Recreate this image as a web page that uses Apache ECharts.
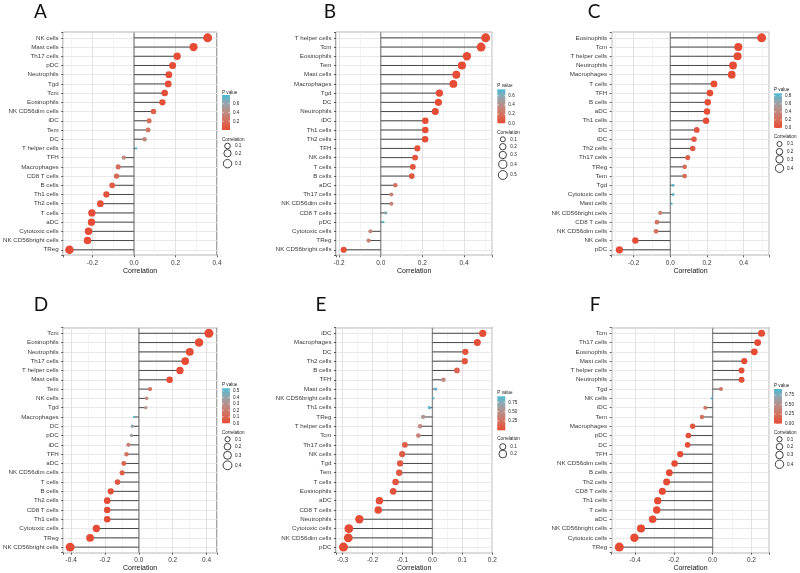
<!DOCTYPE html>
<html><head><meta charset="utf-8">
<script src="https://cdn.jsdelivr.net/npm/echarts@6/dist/echarts.min.js"></script>
<style>html,body{margin:0;padding:0;background:#fff}#c{width:800px;height:573px}</style>
</head><body><div id="c"></div>
<script>
// ---------------- data (top-to-bottom order) ----------------
const catsA = ['NK cells','Mast cells','Th17 cells','pDC','Neutrophils','Tgd','Tcm','Eosinophils','NK CD56dim cells','iDC','Tem','DC','T helper cells','TFH','Macrophages','CD8 T cells','B cells','Th1 cells','Th2 cells','T cells','aDC','Cytotoxic cells','NK CD56bright cells','TReg'];
const corrA = [0.355,0.287,0.208,0.186,0.168,0.165,0.148,0.137,0.094,0.073,0.068,0.051,0.011,-0.049,-0.076,-0.084,-0.105,-0.133,-0.162,-0.203,-0.205,-0.219,-0.224,-0.311];
const pvalA = [0.001,0.001,0.003,0.006,0.01,0.01,0.02,0.02,0.12,0.21,0.24,0.38,0.80,0.40,0.20,0.16,0.09,0.04,0.02,0.005,0.005,0.003,0.003,0.0002];

const catsB = ['T helper cells','Tcm','Eosinophils','Tem','Mast cells','Macrophages','Tgd','DC','Neutrophils','iDC','Th1 cells','Th2 cells','TFH','NK cells','T cells','B cells','aDC','Th17 cells','NK CD56dim cells','CD8 T cells','pDC','Cytotoxic cells','TReg','NK CD56bright cells'];
const corrB = [0.504,0.482,0.414,0.390,0.363,0.349,0.282,0.277,0.262,0.214,0.214,0.213,0.176,0.165,0.154,0.149,0.070,0.051,0.051,0.024,0.013,-0.050,-0.058,-0.178];
const pvalB = [0,0,0,0,0,0,0.001,0.001,0.002,0.01,0.01,0.01,0.03,0.04,0.05,0.06,0.2,0.32,0.32,0.6,0.74,0.34,0.3,0.03];

const catsC = ['Eosinophils','Tcm','T helper cells','Neutrophils','Macrophages','T cells','TFH','B cells','aDC','Th1 cells','DC','iDC','Th2 cells','Th17 cells','TReg','Tem','Tgd','Cytotoxic cells','Mast cells','NK CD56bright cells','CD8 T cells','NK CD56dim cells','NK cells','pDC'];
const corrC = [0.498,0.371,0.367,0.342,0.335,0.238,0.216,0.204,0.200,0.195,0.144,0.129,0.122,0.095,0.078,0.078,0.015,0.015,0.007,-0.055,-0.073,-0.078,-0.191,-0.278];
const pvalC = [0,0,0,0,0,0.004,0.008,0.01,0.012,0.014,0.06,0.08,0.09,0.15,0.2,0.2,0.8,0.8,0.86,0.38,0.26,0.22,0.02,0.001];

const catsD = ['Tcm','Eosinophils','Neutrophils','Th17 cells','T helper cells','Mast cells','Tem','NK cells','Tgd','Macrophages','DC','pDC','iDC','TFH','aDC','NK CD56dim cells','T cells','B cells','Th2 cells','CD8 T cells','Th1 cells','Cytotoxic cells','TReg','NK CD56bright cells'];
const corrD = [0.414,0.356,0.301,0.274,0.243,0.182,0.066,0.046,0.041,-0.029,-0.039,-0.043,-0.062,-0.073,-0.089,-0.099,-0.126,-0.166,-0.187,-0.187,-0.187,-0.251,-0.288,-0.406];
const pvalD = [0,0,0,0,0,0.002,0.17,0.27,0.30,0.54,0.42,0.38,0.22,0.16,0.10,0.07,0.04,0.01,0.005,0.005,0.005,0.001,0,0];

const catsE = ['iDC','Macrophages','DC','Th2 cells','B cells','TFH','Mast cells','NK CD56bright cells','Th1 cells','TReg','T helper cells','Tcm','Th17 cells','NK cells','Tgd','Tem','T cells','Eosinophils','aDC','CD8 T cells','Neutrophils','Cytotoxic cells','NK CD56dim cells','pDC'];
const corrE = [0.168,0.150,0.110,0.108,0.082,0.037,0.011,0.003,-0.010,-0.031,-0.041,-0.047,-0.092,-0.101,-0.108,-0.111,-0.123,-0.131,-0.177,-0.181,-0.244,-0.279,-0.281,-0.297];
const pvalE = [0.01,0.02,0.06,0.07,0.15,0.45,0.82,0.91,0.86,0.55,0.45,0.4,0.12,0.1,0.08,0.08,0.06,0.05,0.01,0.01,0.001,0,0,0];

const catsF = ['Tcm','Th17 cells','Eosinophils','Mast cells','T helper cells','Neutrophils','Tgd','NK cells','iDC','Tem','Macrophages','pDC','DC','TFH','NK CD56dim cells','B cells','Th2 cells','CD8 T cells','Th1 cells','T cells','aDC','NK CD56bright cells','Cytotoxic cells','TReg'];
const corrF = [0.252,0.232,0.215,0.163,0.149,0.149,0.043,-0.005,-0.038,-0.055,-0.103,-0.125,-0.129,-0.167,-0.196,-0.223,-0.237,-0.259,-0.283,-0.288,-0.309,-0.369,-0.403,-0.481];
const pvalF = [0,0,0.001,0.01,0.02,0.02,0.30,0.91,0.32,0.24,0.06,0.03,0.03,0.01,0.003,0.001,0,0,0,0,0,0,0,0];

const panelLetters = ['A','B','C','D','E','F'];
const pTicksA = [0.2,0.4,0.6], pTicksB = [0,0.2,0.4,0.6], pTicksC = [0,0.2,0.4,0.6,0.8];
const pTicksD = [0,0.1,0.2,0.3,0.4,0.5], pTicksE = [0.25,0.5,0.75], pTicksF = [0,0.25,0.5,0.75];
const sizeTicksA = [0.1,0.2,0.3], sizeTicksB = [0.1,0.2,0.3,0.4,0.5], sizeTicksC = [0.1,0.2,0.3,0.4];
const sizeTicksD = [0.1,0.2,0.3,0.4], sizeTicksE = [0.1,0.2], sizeTicksF = [0.1,0.2,0.3,0.4];

// ---------------- layout / style ----------------
const PAL = ['#E64B35','#D56F5C','#BD8B83','#97A4AB','#4DBBD5'];
const FONT = '"Liberation Sans", Arial, Helvetica, sans-serif';

const panels = [
  {cats:catsA, corr:corrA, pval:pvalA, pMax:0.80, pTicks:pTicksA, pDec:1, sizeTicks:sizeTicksA,
   box:[61,32.3,156,223], x:[-0.341,0.40], xSplit:4, xStep:0.2, title:[40.5,11.7],
   leg:{x:222, pv:92.3, barTop:95, barH:35, ct:139.3, cy:[146,153.3,163.7]}},
  {cats:catsB, corr:corrB, pval:pvalB, pMax:0.74, pTicks:pTicksB, pDec:1, sizeTicks:sizeTicksB,
   box:[336,32.3,156.3,223], x:[-0.215,0.536], xSplit:4, xStep:0.2, title:[330,11.7],
   leg:{x:497.3, pv:86, barTop:89.3, barH:34, ct:132.3, cy:[139.3,146.7,155,164.3,175]}},
  {cats:catsC, corr:corrC, pval:pvalC, pMax:0.86, pTicks:pTicksC, pDec:1, sizeTicks:sizeTicksC,
   box:[611.7,32.3,157.6,223], x:[-0.32,0.54], xSplit:4, xStep:0.2, title:[594,11.7],
   leg:{x:774, pv:90, barTop:93.3, barH:34.7, ct:136.7, cy:[144,151.7,159.3,168.3]}},
  {cats:catsD, corr:corrD, pval:pvalD, pMax:0.54, pTicks:pTicksD, pDec:1, sizeTicks:sizeTicksD,
   box:[61,327.7,156,225], x:[-0.447,0.462], xSplit:4, xStep:0.2, title:[41,305],
   leg:{x:222, pv:385, barTop:388.3, barH:35, ct:432.3, cy:[439.3,446.7,455.3,465.3]}},
  {cats:catsE, corr:corrE, pval:pvalE, pMax:0.91, pTicks:pTicksE, pDec:2, sizeTicks:sizeTicksE,
   box:[336,327.7,156.3,225], x:[-0.322,0.2], xSplit:5, xStep:0.1, title:[321,305],
   leg:{x:497.3, pv:392.3, barTop:396.3, barH:34, ct:438.3, cy:[446.7,454]}},
  {cats:catsF, corr:corrF, pval:pvalF, pMax:0.91, pTicks:pTicksF, pDec:2, sizeTicks:sizeTicksF,
   box:[611.7,327.7,157.6,225], x:[-0.52,0.292], xSplit:4, xStep:0.2, title:[595,305],
   leg:{x:774, pv:385.7, barTop:389, barH:34.7, ct:432.3, cy:[439.3,446.7,455,464.3]}}
];

function makeSize(corr){
  const a = corr.map(Math.abs);
  const lo = Math.min(...a), hi = Math.max(...a);
  return r => { const t = Math.max(0, Math.min(1, (r - lo) / (hi - lo))); return 2.2 + 6.8 * Math.sqrt(t); };
}
function isMult(v, s){ const q = v / s; return Math.abs(q - Math.round(q)) < 1e-6; }

const option = {animation:false, backgroundColor:'#fff', grid:[], xAxis:[], yAxis:[], series:[], visualMap:[], graphic:[]};

panels.forEach((P, i) => {
  const [gl, gt, gw, gh] = P.box;
  const n = P.cats.length;
  const sizeFn = makeSize(P.corr);
  option.grid.push({left:gl, top:gt, width:gw, height:gh, show:true, borderColor:'#333', borderWidth:0.9, backgroundColor:'#fff', containLabel:false});

  option.xAxis.push({
    gridIndex:i, type:'value', position:'bottom', min:P.x[0], max:P.x[1], splitNumber:P.xSplit,
    axisLine:{show:false, onZero:false},
    axisTick:{show:true, length:2, lineStyle:{color:'#333', width:0.8}},
    axisLabel:{margin:4, fontSize:6.5, color:'#3A3A3A', fontFamily:FONT,
      formatter: v => isMult(v, P.xStep) ? (Math.abs(v) < 1e-9 ? '0.0' : v.toFixed(1)) : ''},
    splitLine:{show:true, lineStyle:{color:'#E2E2E2', width:1}},
    minorTick:{show:false, splitNumber:2},
    minorSplitLine:{show:true, lineStyle:{color:'#F0F0F0', width:0.8}},
    name:'Correlation', nameLocation:'middle', nameGap:12,
    nameTextStyle:{fontSize:7, color:'#111', fontFamily:FONT}
  });

  option.yAxis.push({
    gridIndex:i, type:'value', position:'left', inverse:true, min:-0.6, max:n - 0.4, splitNumber:n,
    axisLine:{show:false, onZero:false},
    axisTick:{show:true, length:2, lineStyle:{color:'#333', width:0.8}},
    axisLabel:{margin:4.5, fontSize:6.2, color:'#3A3A3A', fontFamily:FONT,
      formatter: v => (Math.abs(v - Math.round(v)) < 1e-6 && P.cats[Math.round(v)] !== undefined) ? P.cats[Math.round(v)] : ''},
    splitLine:{show:true, lineStyle:{color:'#E6E6E6', width:0.9}}
  });

  // zero reference line
  option.series.push({type:'line', xAxisIndex:i, yAxisIndex:i, data:[[0, -0.6], [0, n - 0.4]],
    showSymbol:false, symbol:'none', silent:true, z:1, lineStyle:{color:'#8C8C8C', width:1.3}});
  // stems
  option.series.push({type:'custom', xAxisIndex:i, yAxisIndex:i, silent:true, z:2,
    data:P.corr.map((v, k) => [v, k]), encode:{x:0, y:1},
    renderItem:(params, api) => {
      const a = api.coord([0, api.value(1)]);
      const b = api.coord([api.value(0), api.value(1)]);
      return {type:'line', shape:{x1:a[0], y1:a[1], x2:b[0], y2:b[1]}, style:{stroke:'#474747', lineWidth:1}};
    }});
  // points
  option.series.push({type:'scatter', xAxisIndex:i, yAxisIndex:i, silent:true, z:3,
    data:P.corr.map((v, k) => [v, k, P.pval[k]]), encode:{x:0, y:1},
    symbolSize: d => sizeFn(Math.abs(d[0])), itemStyle:{opacity:1}});

  const L = P.leg;
  option.visualMap.push({type:'continuous', seriesIndex:3 * i + 2, dimension:2, min:0, max:P.pMax,
    inRange:{color:PAL}, calculable:false, show:false});

  // panel letter
  option.graphic.push({type:'text', x:P.title[0], y:P.title[1], silent:true,
    style:{text:panelLetters[i], font:'19px Lato, "Open Sans", sans-serif', fill:'#111', align:'center', verticalAlign:'middle'}});
  // legend: P value colour bar
  option.graphic.push({type:'text', x:L.x, y:L.pv, silent:true,
    style:{text:'P value', font:'4.6px ' + FONT, fill:'#222', align:'left', verticalAlign:'middle'}});
  option.graphic.push({type:'rect', silent:true, shape:{x:L.x, y:L.barTop, width:8, height:L.barH},
    style:{fill:{type:'linear', x:0, y:0, x2:0, y2:1, global:false,
      colorStops:PAL.slice().reverse().map((c, k, arr) => ({offset:k / (arr.length - 1), color:c}))}}});
  P.pTicks.forEach(t => {
    const yy = L.barTop + (1 - t / P.pMax) * L.barH;
    option.graphic.push({type:'line', silent:true, z:100, shape:{x1:L.x, y1:yy, x2:L.x + 1.6, y2:yy}, style:{stroke:'#fff', lineWidth:0.6}});
    option.graphic.push({type:'line', silent:true, z:100, shape:{x1:L.x + 6.4, y1:yy, x2:L.x + 8, y2:yy}, style:{stroke:'#fff', lineWidth:0.6}});
    option.graphic.push({type:'text', x:L.x + 11, y:yy, silent:true,
      style:{text:t.toFixed(P.pDec), font:'4.6px ' + FONT, fill:'#222', align:'left', verticalAlign:'middle'}});
  });
  // legend: Correlation size
  option.graphic.push({type:'text', x:L.x, y:L.ct, silent:true,
    style:{text:'Correlation', font:'4.6px ' + FONT, fill:'#222', align:'left', verticalAlign:'middle'}});
  P.sizeTicks.forEach((s, k) => {
    option.graphic.push({type:'circle', silent:true, shape:{cx:L.x + 5.5, cy:L.cy[k], r:sizeFn(s) / 2},
      style:{fill:'none', stroke:'#111', lineWidth:0.8}});
    option.graphic.push({type:'text', x:L.x + 13, y:L.cy[k], silent:true,
      style:{text:s.toFixed(1), font:'4.6px ' + FONT, fill:'#222', align:'left', verticalAlign:'middle'}});
  });
});

const chart = echarts.init(document.getElementById('c'), null, {renderer:'canvas'});
chart.setOption(option);
</script>
</body></html>
